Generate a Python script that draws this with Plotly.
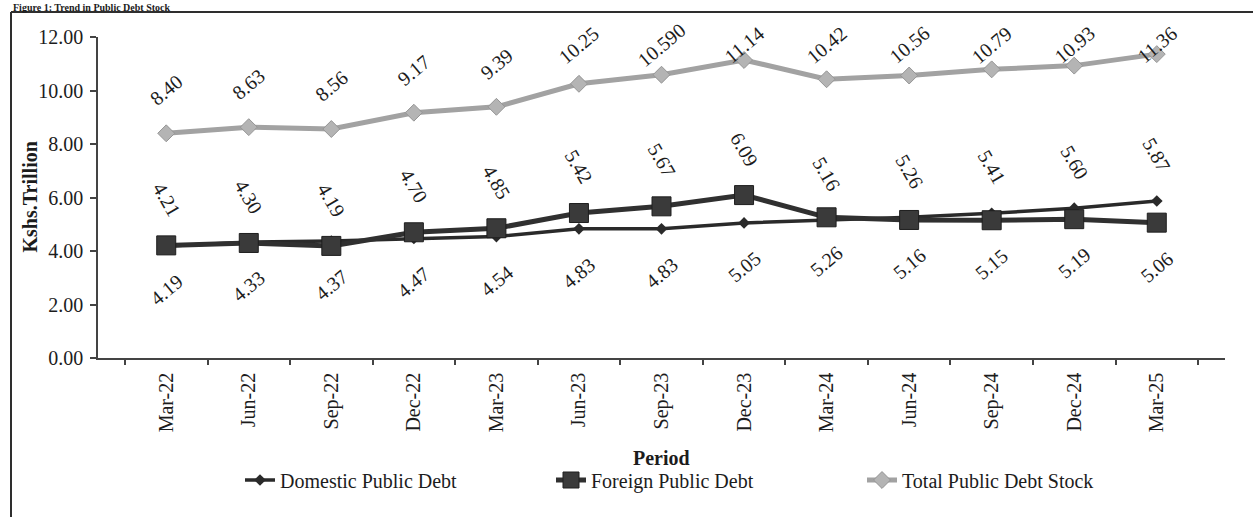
import plotly.graph_objects as go

# Quarterly public debt stock, Kshs trillion
periods = ["Mar-22", "Jun-22", "Sep-22", "Dec-22", "Mar-23", "Jun-23", "Sep-23",
           "Dec-23", "Mar-24", "Jun-24", "Sep-24", "Dec-24", "Mar-25"]

domestic_txt = ["4.19", "4.33", "4.37", "4.47", "4.54", "4.83", "4.83",
                "5.05", "5.16", "5.26", "5.41", "5.60", "5.87"]
foreign_txt = ["4.21", "4.30", "4.19", "4.70", "4.85", "5.42", "5.67",
               "6.09", "5.26", "5.16", "5.15", "5.19", "5.06"]
total_txt = ["8.40", "8.63", "8.56", "9.17", "9.39", "10.25", "10.590",
             "11.14", "10.42", "10.56", "10.79", "10.93", "11.36"]

domestic = [float(t) for t in domestic_txt]
foreign = [float(t) for t in foreign_txt]
total = [float(t) for t in total_txt]

# from this period on the domestic labels sit in the upper row
swap_from = periods.index("Mar-24")

FONT = "Liberation Serif"
INK = "#1c1c1c"

# plot-area geometry in pixels, used to place free text and the frame
W, H = 1253, 517
L, R, T, B = 98, 1225, 37, 358


def px_x(x):
    return (x - L) / (R - L)


def px_y(y):
    return (B - y) / (B - T)


fig = go.Figure()

fig.add_trace(go.Scatter(
    x=periods, y=domestic, name="Domestic Public Debt", mode="lines+markers",
    line=dict(color="#2a2a2a", width=3.5),
    marker=dict(symbol="diamond", size=9, color="#2a2a2a"),
))
fig.add_trace(go.Scatter(
    x=periods, y=foreign, name="Foreign Public Debt", mode="lines+markers",
    line=dict(color="#303030", width=5),
    marker=dict(symbol="square", size=19, color="#3a3a3a",
                line=dict(color="#1e1e1e", width=1)),
))
fig.add_trace(go.Scatter(
    x=periods, y=total, name="Total Public Debt Stock", mode="lines+markers",
    line=dict(color="#a2a2a2", width=5),
    marker=dict(symbol="diamond", size=13, color="#b4b4b4",
                line=dict(color="#959595", width=1)),
))

annotations = []
lab_font = dict(family=FONT, size=20, color=INK)
for i, p in enumerate(periods):
    if i < swap_from:
        up_v, up_t, lo_v, lo_t = foreign[i], foreign_txt[i], domestic[i], domestic_txt[i]
    else:
        up_v, up_t, lo_v, lo_t = domestic[i], domestic_txt[i], foreign[i], foreign_txt[i]
    annotations.append(dict(x=p, y=up_v, text=up_t, showarrow=False, textangle=60,
                            xanchor="center", yanchor="middle", yshift=46, font=lab_font))
    annotations.append(dict(x=p, y=lo_v, text=lo_t, showarrow=False, textangle=-40,
                            xanchor="center", yanchor="middle", yshift=-44, font=lab_font))
    annotations.append(dict(x=p, y=min(total[i], 10.1), text=total_txt[i], showarrow=False,
                            textangle=-40, xanchor="center", yanchor="middle", yshift=43,
                            font=lab_font))

# chart title, axis titles
annotations.append(dict(xref="paper", yref="paper", x=px_x(12), y=px_y(1),
                        xanchor="left", yanchor="top", showarrow=False, borderpad=0,
                        text="<b>Figure 1: Trend in Public Debt Stock</b>",
                        font=dict(family=FONT, size=10, color=INK)))
annotations.append(dict(xref="paper", yref="paper", x=px_x(29), y=0.5,
                        xanchor="center", yanchor="middle", showarrow=False, textangle=-90,
                        text="<b>Kshs.Trillion</b>",
                        font=dict(family=FONT, size=20, color=INK)))
annotations.append(dict(xref="paper", yref="paper", x=0.5, y=px_y(458),
                        xanchor="center", yanchor="middle", showarrow=False,
                        text="<b>Period</b>",
                        font=dict(family=FONT, size=20, color=INK)))

frame = dict(color="#2e2e2e", width=2)
shapes = [
    dict(type="line", xref="paper", yref="paper", x0=px_x(11), x1=px_x(W), y0=px_y(12), y1=px_y(12), line=frame),
    dict(type="line", xref="paper", yref="paper", x0=px_x(11), x1=px_x(11), y0=px_y(12), y1=px_y(H), line=frame),
]

fig.update_layout(
    width=W, height=H,
    margin=dict(l=L, r=W - R, t=T, b=H - B, autoexpand=False),
    paper_bgcolor="white", plot_bgcolor="white",
    font=dict(family=FONT, size=20, color=INK),
    showlegend=True,
    legend=dict(orientation="h", x=px_x(240), y=px_y(480), xanchor="left", yanchor="middle",
                entrywidth=266, entrywidthmode="pixels", bgcolor="rgba(0,0,0,0)",
                font=dict(family=FONT, size=20, color=INK), tracegroupgap=0),
    annotations=annotations,
    shapes=shapes,
)

fig.update_xaxes(
    type="category", tickangle=-90, tickson="boundaries",
    ticks="outside", ticklen=5, tickcolor="#444", tickwidth=1.5, ticklabelstandoff=5,
    showline=True, linecolor="#444", linewidth=1.5, showgrid=False, zeroline=False,
    tickfont=dict(family=FONT, size=20, color=INK), automargin=False,
)
fig.update_yaxes(
    range=[0, 12], dtick=2, tickformat=".2f",
    ticks="outside", ticklen=6, tickcolor="#444", tickwidth=1.5, ticklabelstandoff=3,
    showline=True, linecolor="#444", linewidth=1.5, showgrid=False, zeroline=False,
    tickfont=dict(family=FONT, size=20, color=INK), automargin=False,
)

fig.write_html("out.html")
